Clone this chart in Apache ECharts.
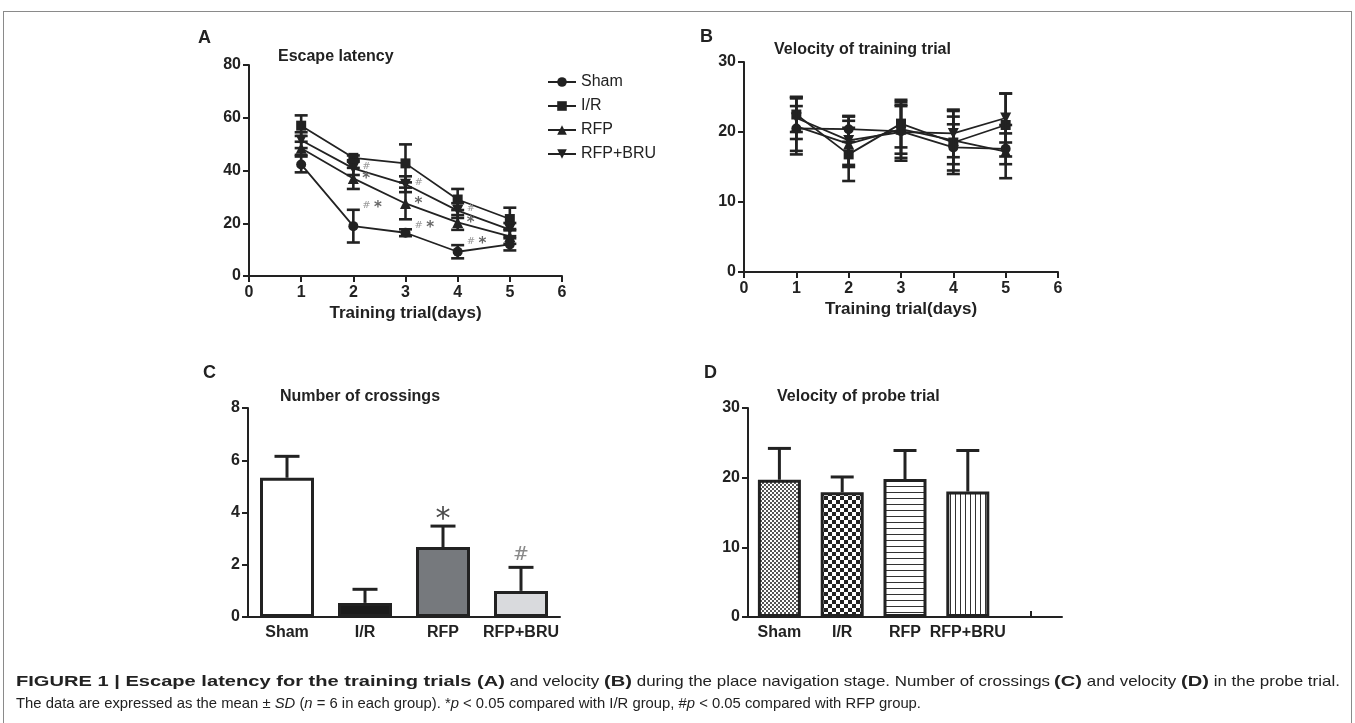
<!DOCTYPE html>
<html><head><meta charset="utf-8">
<script src="https://cdn.jsdelivr.net/npm/echarts@6/dist/echarts.min.js"></script>
<style>
html,body{margin:0;padding:0;background:#fff;overflow:hidden;}
#frame{position:absolute;left:3px;top:11px;width:1349px;height:740px;border:1px solid #8a8a8a;box-sizing:border-box;}
#chart{position:absolute;left:0;top:0;width:1355px;height:723px;}
.cap{position:absolute;left:16px;height:18px;font-family:'Liberation Sans',Arial,sans-serif;font-size:15px;line-height:18px;color:#222;}
.cap span{position:absolute;top:0;left:0;display:inline-block;white-space:pre;transform-origin:0 0;}
.cap span.b{font-weight:bold;}
</style></head><body>
<div id="frame"></div>
<div id="chart"></div>
<div class="cap" id="cap1" style="top:672px"><span class="b">FIGURE 1 | Escape latency for the training trials (A)</span><span> and velocity </span><span class="b">(B)</span><span> during the place navigation stage. Number of crossings </span><span class="b">(C)</span><span> and velocity </span><span class="b">(D)</span><span> in the probe trial.</span></div>
<div class="cap" id="cap2" style="top:694px"><span>The data are expressed as the mean ± <i>SD</i> (<i>n</i> = 6 in each group). *<i>p</i> &lt; 0.05 compared with I/R group, #<i>p</i> &lt; 0.05 compared with RFP group.</span></div>
<script>
// ---------- DATA ----------
const groups = ['Sham', 'I/R', 'RFP', 'RFP+BRU'];
const days = [1, 2, 3, 4, 5];

// Panel A: escape latency (mean, SD)
const latSham   = [42.3, 18.9, 16.4, 9.2, 12.0];
const latShamSD = [3.0, 6.2, 1.3, 2.5, 2.3];
const latIR     = [57.0, 44.8, 42.7, 29.0, 21.6];
const latIRSD   = [3.9, 0.9, 7.2, 4.0, 4.3];
const latRFP    = [48.4, 37.0, 27.5, 20.3, 15.0];
const latRFPSD  = [2.5, 4.0, 6.0, 2.8, 2.8];
const latBRU    = [51.5, 40.8, 34.8, 24.8, 17.6];
const latBRUSD  = [3.0, 2.5, 3.0, 2.8, 2.5];
const annSham = ['', '#*', '#*', '#*', ''];
const annRFP  = ['', '*', '*', '*', ''];
const annBRU  = ['', '#', '#', '#', ''];

// Panel B: velocity of training trial
const velSham   = [20.5, 20.4, 20.1, 17.8, 17.6];
const velShamSD = [3.2, 1.8, 4.2, 3.3, 2.2];
const velIR     = [22.5, 16.8, 21.2, 18.5, 21.0];
const velIRSD   = [2.5, 3.8, 3.4, 4.5, 4.5];
const velRFP    = [20.8, 18.3, 20.4, 18.8, 17.2];
const velRFPSD  = [4.0, 3.3, 3.5, 3.4, 3.8];
const velBRU    = [22.0, 18.8, 20.0, 19.8, 22.0];
const velBRUSD  = [3.0, 3.5, 3.7, 3.4, 3.5];

// Panel C: number of crossings
const crossCats = ['Sham', 'I/R', 'RFP', 'RFP+BRU'];
const crossVals = [5.33, 0.54, 2.68, 1.0];
const crossSD   = [0.82, 0.52, 0.80, 0.90];
const crossAnn  = ['', '', '*', '#'];

// Panel D: velocity of probe trial
const probeCats = ['Sham', 'I/R', 'RFP', 'RFP+BRU', ''];
const probeVals = [19.7, 17.9, 19.8, 18.0];
const probeSD   = [4.5, 2.2, 4.1, 5.9];

// ---------- STYLE HELPERS ----------
const FONT = 'Liberation Sans, Arial, sans-serif';
const INK = '#222';
function makePattern(w, h, draw) {
  const c = document.createElement('canvas'); c.width = w; c.height = h;
  const g = c.getContext('2d'); g.fillStyle = '#fff'; g.fillRect(0, 0, w, h);
  g.fillStyle = '#222'; draw(g); return {image: c, repeat: 'repeat'};
}
const patFine = makePattern(4, 4, g => { g.fillStyle = '#555'; g.fillRect(0,0,2,2); g.fillRect(2,2,2,2); });
const patCheck = makePattern(8, 8, g => { g.fillRect(0,0,4,4); g.fillRect(4,4,4,4); });
const patHoriz = makePattern(6, 6, g => { g.fillStyle = '#333'; g.fillRect(0,0,6,1); });
const patVert = makePattern(5, 5, g => { g.fillStyle = '#333'; g.fillRect(0,0,1,5); });
const crossColors = ['#ffffff', '#1c1c1c', '#76797d', '#d9dadd'];
const probeColors = [patFine, patCheck, patHoriz, patVert];

const axisLine = {show: true, onZero: false, lineStyle: {color: INK, width: 2}};
const axisLabel = {color: INK, fontFamily: FONT, fontWeight: 'bold', fontSize: 16};
function valX(grid, name) {
  return {type: 'value', gridIndex: grid, min: 0, max: 6, interval: 1,
    axisLine, axisTick: {show: true, inside: false, length: 6, lineStyle: {color: INK, width: 2}},
    axisLabel: Object.assign({margin: 9}, axisLabel), splitLine: {show: false},
    name, nameLocation: 'middle', nameGap: 29,
    nameTextStyle: {color: INK, fontFamily: FONT, fontWeight: 'bold', fontSize: 17}};
}
function valY(grid, max, interval) {
  return {type: 'value', gridIndex: grid, min: 0, max, interval,
    axisLine, axisTick: {show: true, inside: false, length: 6, lineStyle: {color: INK, width: 2}},
    axisLabel: Object.assign({margin: 8}, axisLabel), splitLine: {show: false}};
}
function catX(grid, data) {
  return {type: 'category', gridIndex: grid, data,
    axisLine, axisTick: {show: true, inside: true, alignWithLabel: true, length: 6, lineStyle: {color: INK, width: 2}},
    axisLabel: Object.assign({margin: 8, interval: 0}, axisLabel), splitLine: {show: false}};
}

const symbols = ['circle', 'rect', 'triangle', 'path://M0,0 L10,0 L5,10 Z'];
const symSizes = [10, 10, 11, 11];

function lineSeries(name, idx, vals, axis) {
  return {type: 'line', name, xAxisIndex: axis, yAxisIndex: axis,
    data: days.map((d, i) => [d, vals[i]]),
    symbol: symbols[idx], symbolSize: symSizes[idx], itemStyle: {color: INK},
    lineStyle: {color: INK, width: 1.8}, z: 4, animation: false};
}
function errSeries(vals, sds, axis, xs, capHalf, symmetric) {
  return {type: 'custom', xAxisIndex: axis, yAxisIndex: axis, z: 5, silent: true, animation: false,
    clip: false,
    data: vals.map((v, i) => [xs[i], v, sds[i]]),
    encode: {x: 0, y: 1},
    renderItem(params, api) {
      const x = api.value(0), y = api.value(1), sd = api.value(2);
      const top = api.coord([x, y + sd]);
      const bot = api.coord([x, symmetric ? y - sd : y]);
      const style = {stroke: INK, lineWidth: symmetric ? 2.6 : 3, fill: null};
      const ch = [
        {type: 'line', shape: {x1: top[0], y1: top[1], x2: bot[0], y2: bot[1]}, style},
        {type: 'line', shape: {x1: top[0] - capHalf, y1: top[1], x2: top[0] + capHalf, y2: top[1]}, style}
      ];
      if (symmetric) ch.push({type: 'line', shape: {x1: bot[0] - capHalf, y1: bot[1], x2: bot[0] + capHalf, y2: bot[1]}, style});
      return {type: 'group', children: ch};
    }};
}
function annSeries(vals, anchor, texts, axis, xs, dx, dy, big) {
  return {type: 'custom', xAxisIndex: axis, yAxisIndex: axis, z: 6, silent: true, animation: false, clip: false,
    data: vals.map((v, i) => [xs[i], v + anchor[i]]),
    encode: {x: 0, y: 1},
    renderItem(params, api) {
      const t = texts[params.dataIndex];
      if (!t) return null;
      const p = api.coord([api.value(0), api.value(1)]);
      const parts = t.split('').map(ch => ch === '#' ? '{h|#}' : '{s|*}').join(big ? '' : ' ');
      return {type: 'text', x: p[0] + dx, y: p[1] + dy,
        style: {text: parts, align: big ? 'center' : 'left', verticalAlign: 'middle',
          rich: big ? {
            h: {fontSize: 19, fontFamily: 'DejaVu Serif, serif', fill: '#8a8a8a'},
            s: {fontSize: 30, fontFamily: 'DejaVu Sans, sans-serif', fill: '#4a4a4a', padding: [12, 0, 0, 0]}
          } : {
            h: {fontSize: 10, fontFamily: 'DejaVu Serif, serif', fill: '#9a9a9a'},
            s: {fontSize: 15, fontFamily: 'DejaVu Sans, sans-serif', fill: '#666', fontWeight: 'bold', padding: [5, 0, 0, 0]}
          }}};
    }};
}

const zeros = [0, 0, 0, 0, 0];
const series = [];
const latVals = [latSham, latIR, latRFP, latBRU], latSDs = [latShamSD, latIRSD, latRFPSD, latBRUSD];
const velVals = [velSham, velIR, velRFP, velBRU], velSDs = [velShamSD, velIRSD, velRFPSD, velBRUSD];
groups.forEach((g, i) => series.push(lineSeries(g, i, latVals[i], 0)));
groups.forEach((g, i) => series.push(errSeries(latVals[i], latSDs[i], 0, days, 6.5, true)));
groups.forEach((g, i) => series.push(lineSeries(g, i, velVals[i], 1)));
groups.forEach((g, i) => series.push(errSeries(velVals[i], velSDs[i], 1, days, 6.5, true)));
series.push(annSeries(latSham, latShamSD, annSham, 0, days, 9, -4, false));
series.push(annSeries(latRFP, zeros, annRFP, 0, days, 9, -2, false));
series.push(annSeries(latBRU, zeros, annBRU, 0, days, 9, -2, false));

series.push({type: 'bar', xAxisIndex: 2, yAxisIndex: 2, barWidth: 54, z: 3, animation: false,
  data: crossVals.map((v, i) => ({value: v, itemStyle: {color: crossColors[i], borderColor: INK, borderWidth: 3}}))});
series.push(errSeries(crossVals, crossSD, 2, [0, 1, 2, 3], 12.5, false));
series.push(annSeries(crossVals, crossSD, crossAnn, 2, [0, 1, 2, 3], 0, -12, true));

series.push({type: 'bar', xAxisIndex: 3, yAxisIndex: 3, barWidth: 43, z: 3, animation: false,
  data: probeVals.map((v, i) => ({value: v, itemStyle: {color: probeColors[i], borderColor: INK, borderWidth: 3}}))});
series.push(errSeries(probeVals, probeSD, 3, [0, 1, 2, 3], 11.5, false));

function ttl(text, left, top, size) {
  return {text, left, top, padding: 0, textStyle: {color: INK, fontFamily: FONT, fontWeight: 'bold', fontSize: size}};
}

const option = {
  backgroundColor: 'transparent',
  animation: false,
  title: [
    ttl('A', 198, 29, 18), ttl('Escape latency', 278, 49, 16),
    ttl('B', 700, 28, 18), ttl('Velocity of training trial', 774, 42, 16),
    ttl('C', 203, 364, 18), ttl('Number of crossings', 280, 389, 16),
    ttl('D', 704, 364, 18), ttl('Velocity of probe trial', 777, 389, 16)
  ],
  legend: {data: groups, orient: 'vertical', left: 547, top: 74, itemWidth: 28, itemHeight: 12, itemGap: 8,
    textStyle: {color: INK, fontFamily: FONT, fontSize: 16}, padding: 0, selectedMode: false},
  grid: [
    {left: 249, top: 65, width: 313, height: 211},
    {left: 744, top: 62, width: 314, height: 210},
    {left: 248, top: 408, width: 312, height: 209},
    {left: 748, top: 408, width: 314, height: 209}
  ],
  xAxis: [valX(0, 'Training trial(days)'), valX(1, 'Training trial(days)'), catX(2, crossCats), catX(3, probeCats)],
  yAxis: [valY(0, 80, 20), valY(1, 30, 10), valY(2, 8, 2), valY(3, 30, 10)],
  series
};
const chart = echarts.init(document.getElementById('chart'), null, {renderer: 'canvas'});
chart.setOption(option);

// caption layout: line 2 fitted to its width; line 1 bold lead fitted to end near x=505, rest fills line
(function () {
  const line2 = document.querySelector('#cap2 span');
  const r2 = 905 / line2.getBoundingClientRect().width;
  line2.style.transform = 'scaleX(' + r2 + ')';
  const segs = Array.from(document.querySelectorAll('#cap1 span'));
  const widths = segs.map(s => s.getBoundingClientRect().width);
  const b = 489 / widths[0];
  let wb = 0, wr = 0;
  segs.forEach((s, i) => { if (s.classList.contains('b')) wb += widths[i]; else wr += widths[i]; });
  const r1 = (1324 - b * wb) / wr;
  let x = 0;
  segs.forEach((s, i) => {
    const k = s.classList.contains('b') ? b : r1;
    s.style.left = x + 'px';
    s.style.transform = 'scaleX(' + k + ')';
    x += widths[i] * k;
  });
})();
</script>
</body></html>
